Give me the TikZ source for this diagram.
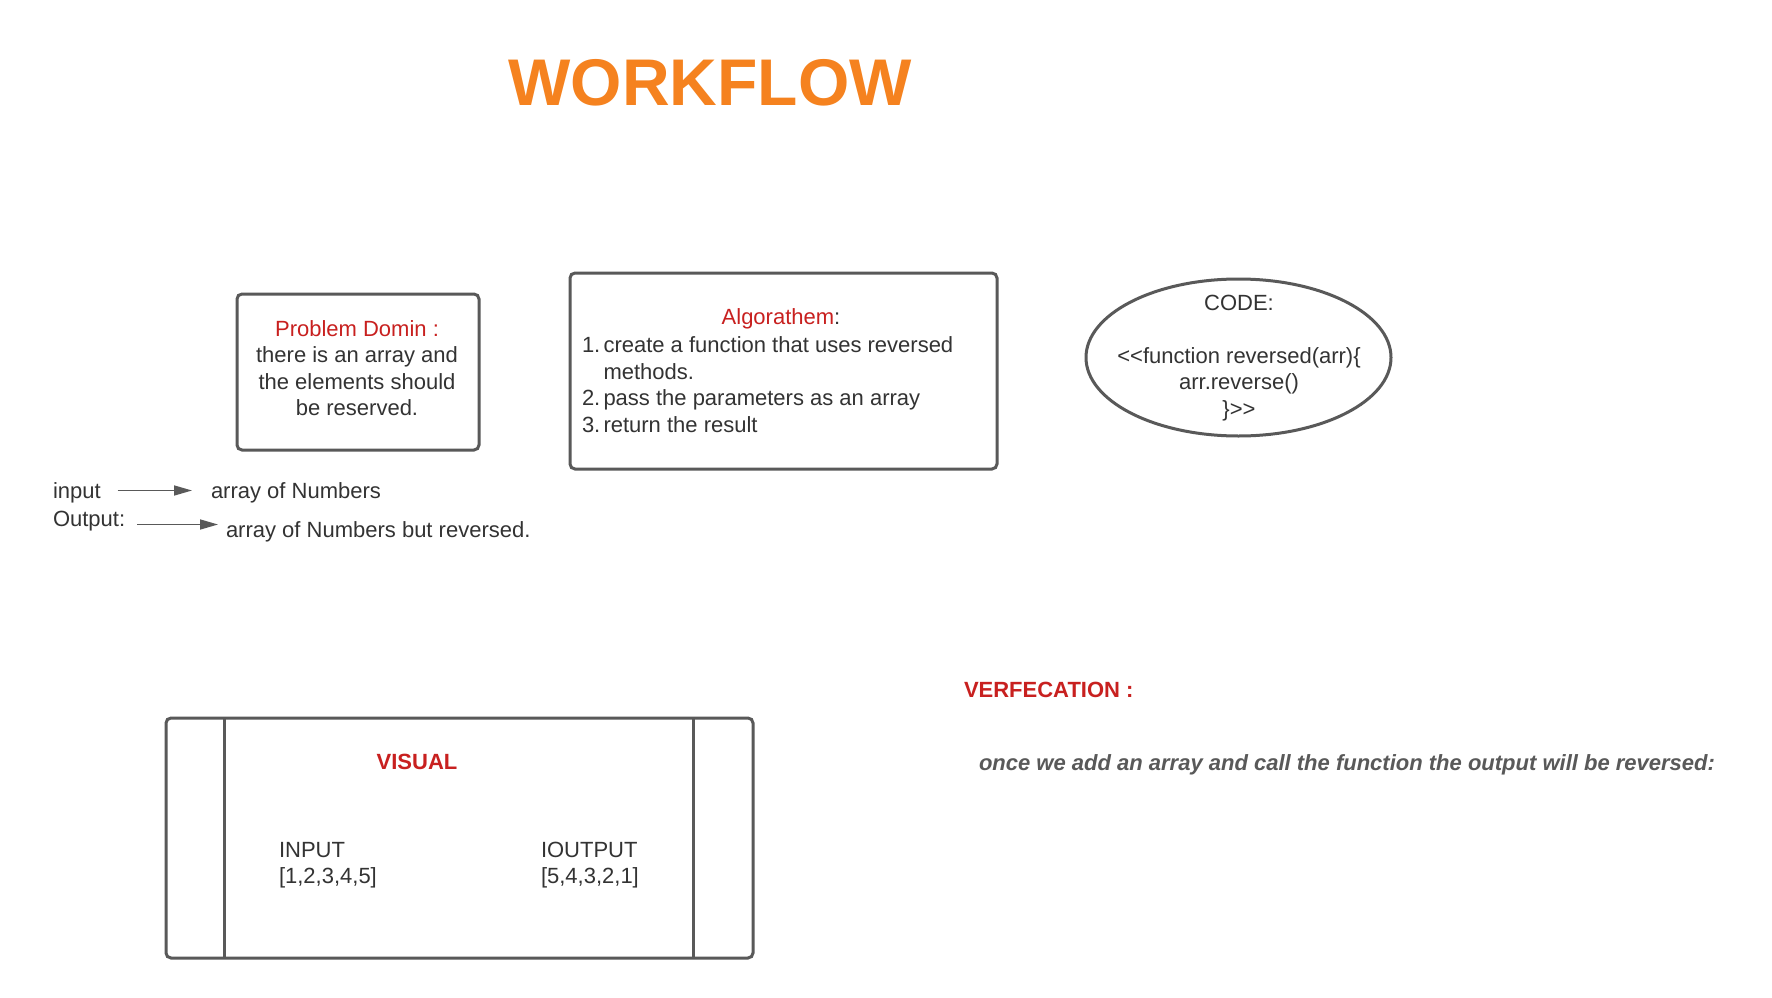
\documentclass[tikz,border=0pt]{standalone}
\usepackage{fontspec}
\setmainfont{Liberation Sans}
\usetikzlibrary{arrows.meta,shapes.geometric}
\definecolor{txt}{HTML}{333333}
\definecolor{edge}{HTML}{595959}
\definecolor{lred}{HTML}{C8201F}
\definecolor{lorange}{HTML}{F5821F}
\definecolor{lgray}{HTML}{595959}
\begin{document}
\begin{tikzpicture}[x=1pt,y=-1pt,
  every node/.style={inner sep=0pt,outer sep=0pt,text=txt},
  body/.style={font=\fontsize{22}{26.5}\selectfont},
  boxshape/.style={draw=edge,line width=3pt,rounded corners=5pt,rectangle},
  conn/.style={draw=edge,line width=1.6pt,-{Triangle[length=18pt,width=10pt]}},
  redhead/.style={text=lred}]
\useasboundingbox (0,0) rectangle (1772,998);
\fill[white] (0,0) rectangle (1772,998);

% title
\node[font=\fontsize{66}{70}\selectfont\bfseries,text=lorange] (title) at (710,83) {WORKFLOW};

% problem domain
\node[boxshape,minimum width=242pt,minimum height=156pt] (pd) at (358,372) {};
\node[body,align=center] (pdtext) at (357,368) {{\color{lred}Problem Domin :}\\there is an array and\\the elements should\\be reserved.};

% algorithm
\node[boxshape,minimum width=427pt,minimum height=196pt] (alg) at (783.5,371) {};
\node[body,anchor=mid] (algt) at (781,322) {{\color{lred}Algorathem}:};
\node[body,anchor=mid west] (n1) at (582,349.5) {1.};
\node[body,anchor=mid west] (l1) at (603.5,349.5) {create a function that uses reversed};
\node[body,anchor=mid west] (l1b) at (603.5,376.5) {methods.};
\node[body,anchor=mid west] (n2) at (582,402.5) {2.};
\node[body,anchor=mid west] (l2) at (603.5,402.5) {pass the parameters as an array};
\node[body,anchor=mid west] (n3) at (582,429.5) {3.};
\node[body,anchor=mid west] (l3) at (603.5,429.5) {return the result};

% code ellipse
\node[draw=edge,line width=3pt,ellipse,minimum width=305pt,minimum height=157pt] (code) at (1238.5,357.5) {};
\node[body,align=center] (codet) at (1239,358) {CODE:\\[26.5pt]{<}{<}function reversed(arr)\{\\arr.reverse()\\\}{>}{>}};

% input / output
\node[body,anchor=mid west] (inp) at (53,496) {input};
\node[body,anchor=mid west] (inv) at (211,496) {array of Numbers};
\coordinate (ia) at (117.5,490.5);
\coordinate (ib) at (192,490.5);
\draw[conn] (ia) -- (ib);
\node[body,anchor=mid west] (outp) at (53,523.5) {Output:};
\node[body,anchor=mid west] (outv) at (226,534.5) {array of Numbers but reversed.};
\coordinate (oa) at (137,524.5);
\coordinate (ob) at (218,524.5);
\draw[conn] (oa) -- (ob);

% visual
\node[boxshape,minimum width=587pt,minimum height=240pt] (vis) at (459.5,838) {};
\draw[edge,line width=3pt] (224,718) -- (224,958);
\draw[edge,line width=3pt] (693,718) -- (693,958);
\node[font=\fontsize{22}{26}\selectfont\bfseries,text=lred] (vist) at (417,762) {VISUAL};
\node[body,anchor=mid west,align=left] (vin) at (279,881) {INPUT\\{}[1,2,3,4,5]};
\node[body,anchor=mid west,align=left] (vout) at (541,881) {IOUTPUT\\{}[5,4,3,2,1]};

% verification
\node[font=\fontsize{22}{26}\selectfont\bfseries,text=lred,anchor=mid west] (ver) at (964,695) {VERFECATION :};
\node[font=\fontsize{22}{26}\selectfont\bfseries\itshape,text=lgray,anchor=mid west] (vers) at (979,768) {once we add an array and call the function the output will be reversed:};
\end{tikzpicture}
\end{document}
